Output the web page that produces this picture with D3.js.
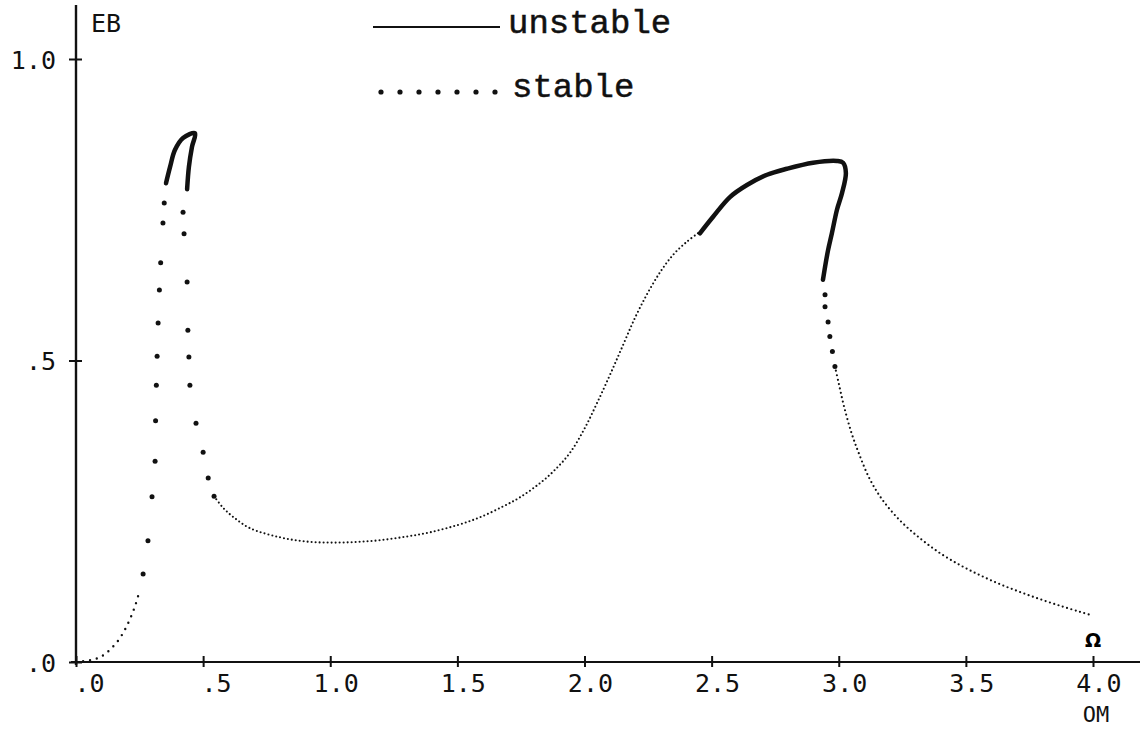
<!DOCTYPE html>
<html>
<head>
<meta charset="utf-8">
<script src="https://cdn.jsdelivr.net/npm/d3@7"></script>
<style>
  html, body { margin: 0; padding: 0; background: #fff; }
  svg { display: block; }
  .tick-label { font-family: 'DejaVu Sans Mono', monospace; font-size: 25px; fill: #111; }
  .legend-label { font-family: 'Liberation Mono', 'Courier New', monospace; font-size: 34px; fill: #111; stroke: #111; stroke-width: 0.5px; }
</style>
</head>
<body>
<svg id="chart" width="1140" height="730"></svg>
<script>
// tick values and their printed labels
const xTicks = [0, 0.5, 1, 1.5, 2, 2.5, 3, 3.5, 4];
const xTickLabels = ['.0', '.5', '1.0', '1.5', '2.0', '2.5', '3.0', '3.5', '4.0'];
const yTicks = [0, 0.5, 1];
const yTickLabels = ['.0', '.5', '1.0'];

// stable branch, low dense part from the origin  [OM, EB]
const stableOrigin = [[0, 0], [0.04, 0.002], [0.075, 0.005], [0.094, 0.008], [0.114, 0.013], [0.14, 0.023],
  [0.17, 0.038], [0.2, 0.06], [0.23, 0.09], [0.25, 0.118]];
// stable branch, sparse dots rising to the first peak
const stableRise = [[0.264, 0.146], [0.283, 0.201], [0.299, 0.274], [0.311, 0.333], [0.313, 0.40], [0.316, 0.459],
  [0.319, 0.507], [0.323, 0.562], [0.328, 0.617], [0.333, 0.662], [0.342, 0.728], [0.347, 0.761]];
// unstable branch round the first peak
const unstableLeft = [[0.354, 0.794], [0.370, 0.821], [0.389, 0.849], [0.421, 0.869], [0.468, 0.877],
  [0.456, 0.854], [0.444, 0.821], [0.437, 0.784]];
// stable branch, sparse dots falling after the first peak
const stableFall = [[0.421, 0.746], [0.425, 0.710], [0.437, 0.630], [0.44, 0.55], [0.444, 0.506], [0.448, 0.459],
  [0.472, 0.396], [0.5, 0.348], [0.52, 0.305], [0.543, 0.275]];
// stable branch, dense dots through the valley
const stableMid = [[0.543, 0.275], [0.58, 0.255], [0.62, 0.24], [0.684, 0.222], [0.8, 0.207], [0.9, 0.2], [1.0, 0.198],
  [1.1, 0.199], [1.196, 0.202], [1.3, 0.208], [1.392, 0.215], [1.5, 0.227], [1.589, 0.24], [1.68, 0.258],
  [1.746, 0.273], [1.82, 0.295], [1.88, 0.317], [1.943, 0.347], [2.0, 0.387], [2.05, 0.43], [2.1, 0.476],
  [2.15, 0.524], [2.2, 0.572], [2.25, 0.613], [2.3, 0.648], [2.35, 0.676], [2.4, 0.696], [2.446, 0.711]];
// unstable branch round the second peak
const unstableRight = [[2.454, 0.711], [2.505, 0.738], [2.572, 0.771], [2.639, 0.791], [2.718, 0.808], [2.796, 0.818],
  [2.899, 0.828], [2.993, 0.831], [3.017, 0.828], [3.028, 0.811], [3.013, 0.778], [2.993, 0.750], [2.973, 0.711],
  [2.958, 0.683], [2.946, 0.655], [2.938, 0.634]];
// stable branch, first dots under the second peak
const stableDrop = [[2.946, 0.609], [2.946, 0.589], [2.958, 0.564], [2.965, 0.54], [2.975, 0.515], [2.985, 0.49]];
// stable branch, dense tail to the right
const stableTail = [[2.985, 0.49], [3.0, 0.462], [3.02, 0.425], [3.05, 0.38], [3.08, 0.345], [3.12, 0.305],
  [3.17, 0.27], [3.24, 0.235], [3.32, 0.205], [3.40, 0.18], [3.48, 0.16], [3.56, 0.143], [3.64, 0.128],
  [3.72, 0.115], [3.80, 0.103], [3.88, 0.092], [3.95, 0.083], [3.99, 0.078]];

const svg = d3.select('#chart');

const x = d3.scaleLinear().domain([0, 4]).range([76, 1093]);
const y = d3.scaleLinear().domain([0, 1]).range([662, 59]);

// axes lines (drawn a bit past the ends like the plotter did)
svg.append('line')
  .attr('x1', x(-0.02)).attr('x2', 1140)
  .attr('y1', y(0)).attr('y2', y(0))
  .attr('stroke', '#111').attr('stroke-width', 2.2);
svg.append('line')
  .attr('x1', x(0)).attr('x2', x(0))
  .attr('y1', 5).attr('y2', y(0) + 3)
  .attr('stroke', '#111').attr('stroke-width', 2.4);

// x axis ticks
const xAxis = svg.append('g')
  .attr('transform', `translate(0,${y(0)})`)
  .call(d3.axisBottom(x).tickValues(xTicks).tickSize(5).tickFormat((d, i) => xTickLabels[i]));
xAxis.select('.domain').remove();
xAxis.selectAll('.tick line').attr('y1', -6).attr('y2', 5).attr('stroke', '#111').attr('stroke-width', 2);
xAxis.selectAll('.tick text')
  .attr('class', 'tick-label')
  .attr('text-anchor', 'end')
  .attr('x', 28).attr('y', 30).attr('dy', null);

// y axis ticks
const yAxis = svg.append('g')
  .attr('transform', `translate(${x(0)},0)`)
  .call(d3.axisLeft(y).tickValues(yTicks).tickSize(6).tickFormat((d, i) => yTickLabels[i]));
yAxis.select('.domain').remove();
yAxis.selectAll('.tick line').attr('x1', -7).attr('x2', 6).attr('stroke', '#111').attr('stroke-width', 2);
yAxis.selectAll('.tick text')
  .attr('class', 'tick-label')
  .attr('text-anchor', 'end')
  .attr('x', -20).attr('dy', '0.36em');
svg.selectAll('.tick text').attr('font-family', null).attr('font-size', null);

// axis names
svg.append('text').attr('class', 'tick-label').attr('x', 91).attr('y', 32).text('EB');
svg.append('text').attr('class', 'tick-label').attr('x', 1096).attr('y', 722)
  .attr('text-anchor', 'middle').style('font-size', '22px').text('OM');
svg.append('text').attr('x', 1093).attr('y', 647).attr('text-anchor', 'middle')
  .style('font-family', 'DejaVu Sans').style('font-weight', 'bold').style('font-size', '19px')
  .text('Ω');

const line = d3.line().x(d => x(d[0])).y(d => y(d[1])).curve(d3.curveCatmullRom);

// unstable branches: heavy solid pen
[unstableLeft, unstableRight].forEach(seg => {
  svg.append('path').datum(seg)
    .attr('d', line)
    .attr('fill', 'none').attr('stroke', '#111')
    .attr('stroke-width', 4.5).attr('stroke-linecap', 'round').attr('stroke-linejoin', 'round');
});

// stable branches: dense dotted parts
[[stableOrigin, '0 7', 2.4], [stableMid, '0 4', 2.1], [stableTail, '0 4.5', 2.2]].forEach(([seg, dash, w]) => {
  svg.append('path').datum(seg)
    .attr('d', line)
    .attr('fill', 'none').attr('stroke', '#111')
    .attr('stroke-width', w).attr('stroke-linecap', 'round')
    .attr('stroke-dasharray', dash);
});

// stable branches: sparse single dots
svg.append('g').selectAll('circle')
  .data(stableRise.concat(stableFall, stableDrop))
  .join('circle')
  .attr('cx', d => x(d[0])).attr('cy', d => y(d[1]))
  .attr('r', 2.5).attr('fill', '#111');

// legend
svg.append('line')
  .attr('x1', 373).attr('x2', 500).attr('y1', 27).attr('y2', 27)
  .attr('stroke', '#111').attr('stroke-width', 2);
svg.append('text').attr('class', 'legend-label').attr('x', 508).attr('y', 33).text('unstable');
svg.append('g').selectAll('circle')
  .data(d3.range(7))
  .join('circle')
  .attr('cx', i => 381 + i * 19).attr('cy', 92)
  .attr('r', 2.6).attr('fill', '#111');
svg.append('text').attr('class', 'legend-label').attr('x', 512).attr('y', 97).text('stable');
</script>
</body>
</html>
